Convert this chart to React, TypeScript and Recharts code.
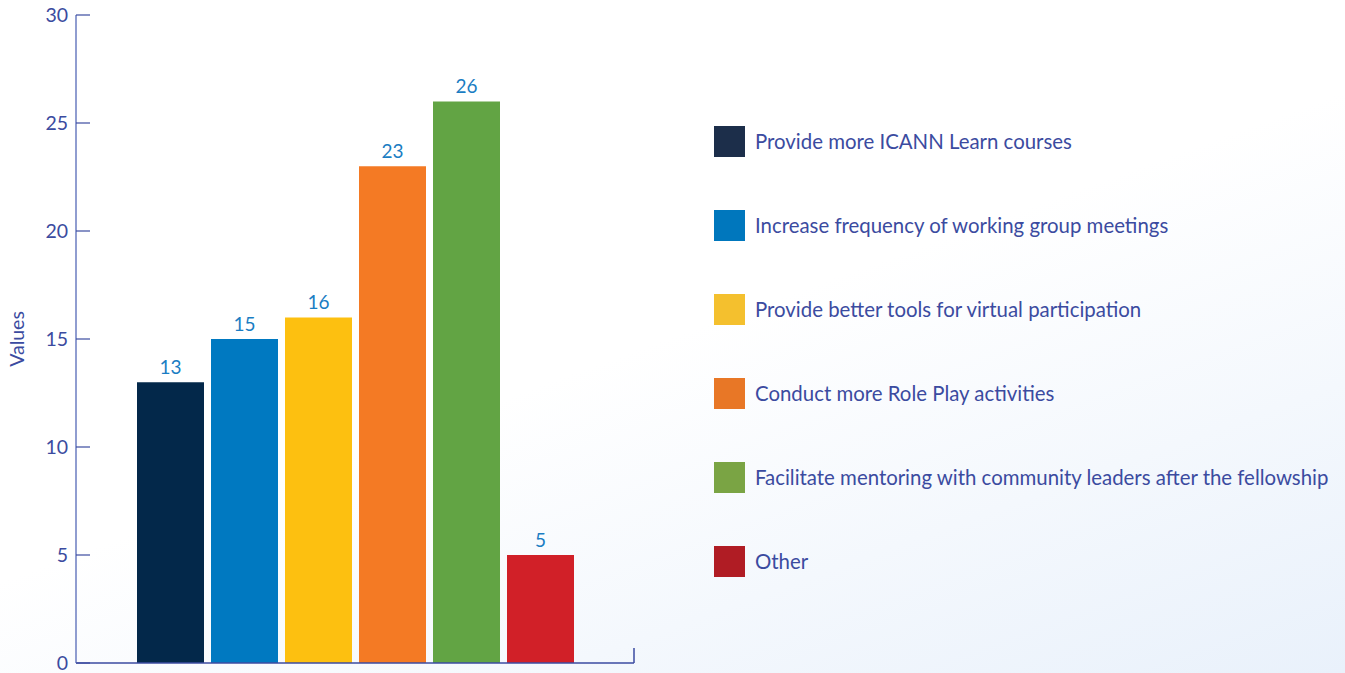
import React from 'react';
import { BarChart, Bar, XAxis, YAxis, Legend, LabelList } from 'recharts';

const categories = [''];
const seriesNames = [
  'Provide more ICANN Learn courses',
  'Increase frequency of working group meetings',
  'Provide better tools for virtual participation',
  'Conduct more Role Play activities',
  'Facilitate mentoring with community leaders after the fellowship',
  'Other',
];
const seriesValues = [13, 15, 16, 23, 26, 5];
const barColors = ['#03284a', '#0079c1', '#fdc010', '#f47a24', '#62a444', '#d12028'];
const legendColors = ['#1c2e4a', '#0077bd', '#f4c02e', '#e87726', '#7aa444', '#b01c24'];
const yTicks = [0, 5, 10, 15, 20, 25, 30];

const data = categories.map((c) => {
  const row: Record<string, any> = { name: c };
  seriesValues.forEach((v, i) => {
    row['s' + i] = v;
  });
  return row;
});

const FONT = 'Lato, "Open Sans", sans-serif';
const TEXT = '#3b4ba0';
const CHART_W = 1345;
const CHART_H = 673;
const LEGEND_W = 620;
const MARGIN = { top: 15, right: 711 - LEGEND_W, bottom: 0, left: 0 };
const Y_W = 76;
const PLOT_W = 634 - Y_W;

const YTick = (props: any) => {
  const { x, y, payload } = props;
  return (
    <g>
      <text x={x} y={y} dy={7} textAnchor="end" fontSize={19.5} fill={TEXT} fontFamily={FONT}>
        {payload.value}
      </text>
      <line x1={x + 8} y1={y} x2={x + 22} y2={y} stroke="#3b4ba0" strokeWidth={1.2} />
    </g>
  );
};

const XTick = (props: any) => {
  const { x, y } = props;
  const endX = x + PLOT_W / categories.length / 2;
  return <line x1={endX} y1={y} x2={endX} y2={y - 15} stroke="#3b4ba0" strokeWidth={1.5} />;
};

const LegendContent = () => {
  return (
    <div style={{ fontFamily: FONT }}>
      {seriesNames.map((name, i) => (
        <div
          key={i}
          style={{ height: 84, display: 'flex', alignItems: 'center', whiteSpace: 'nowrap' }}
        >
          <div style={{ width: 31, height: 31, background: legendColors[i], marginRight: 10, flex: 'none' }} />
          <span style={{ fontSize: 20.4, color: TEXT }}>{name}</span>
        </div>
      ))}
    </div>
  );
};

export default function App() {
  return (
    <div
      style={{
        position: 'absolute',
        left: 0,
        top: 0,
        width: CHART_W,
        height: CHART_H,
        background: 'linear-gradient(160deg, #ffffff 50%, #e9f1fb 100%)',
      }}
    >
      <BarChart
        width={CHART_W}
        height={CHART_H}
        data={data}
        margin={MARGIN}
        barSize={67}
        barGap={7}
      >
        <XAxis
          dataKey="name"
          axisLine={{ stroke: '#3b4ba0', strokeWidth: 1.5 }}
          tickLine={false}
          tickSize={0}
          tickMargin={0}
          tick={<XTick />}
          height={10}
        />
        <YAxis
          domain={[0, 30]}
          ticks={yTicks}
          width={Y_W}
          tickSize={0}
          tickMargin={8}
          tick={<YTick />}
          axisLine={{ stroke: '#6b7cc0', strokeWidth: 1.5 }}
          tickLine={false}
          interval={0}
          label={{
            value: 'Values',
            angle: -90,
            position: 'insideLeft',
            offset: 17,
            fill: TEXT,
            fontSize: 19.5,
            fontFamily: FONT,
            style: { textAnchor: 'middle' },
          }}
        />
        <Legend
          layout="vertical"
          align="right"
          verticalAlign="top"
          content={<LegendContent />}
          wrapperStyle={{ left: 714, top: 99, right: 'auto', width: LEGEND_W }}
        />
        {seriesNames.map((name, i) => (
          <Bar key={i} dataKey={'s' + i} name={name} fill={barColors[i]} isAnimationActive={false}>
            <LabelList
              dataKey={'s' + i}
              position="top"
              offset={8}
              fill="#1a7dc3"
              fontSize={19}
              fontFamily={FONT}
            />
          </Bar>
        ))}
      </BarChart>
    </div>
  );
}
